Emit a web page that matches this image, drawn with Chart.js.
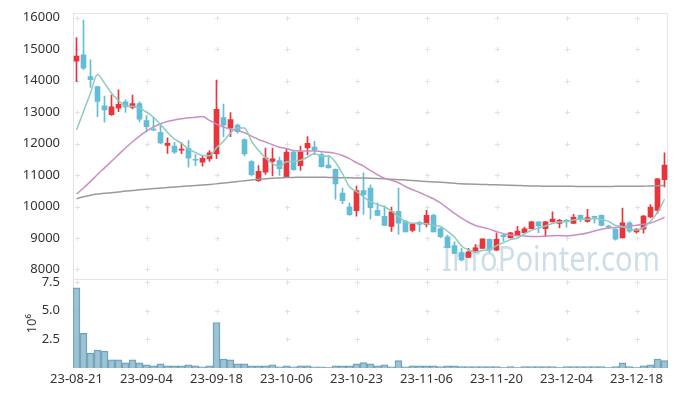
<!DOCTYPE html>
<html>
<head>
<meta charset="utf-8">
<script src="https://cdn.jsdelivr.net/npm/chart.js@4.4.0/dist/chart.umd.min.js"></script>
<style>
  html, body { margin: 0; padding: 0; background: #fff; }
  #wrap { width: 677px; height: 396px; }
</style>
</head>
<body>
<div id="wrap"><canvas id="stockChart" width="677" height="396"></canvas></div>
<script>
// trading days (yy-mm-dd)
const dates = [
    '23-08-21', '23-08-22', '23-08-23', '23-08-24', '23-08-25', '23-08-28', '23-08-29', '23-08-30', '23-08-31', '23-09-01',
    '23-09-04', '23-09-05', '23-09-06', '23-09-07', '23-09-08', '23-09-11', '23-09-12', '23-09-13', '23-09-14', '23-09-15',
    '23-09-18', '23-09-19', '23-09-20', '23-09-21', '23-09-22', '23-09-25', '23-09-26', '23-09-27', '23-10-04', '23-10-05',
    '23-10-06', '23-10-10', '23-10-11', '23-10-12', '23-10-13', '23-10-16', '23-10-17', '23-10-18', '23-10-19', '23-10-20',
    '23-10-23', '23-10-24', '23-10-25', '23-10-26', '23-10-27', '23-10-30', '23-10-31', '23-11-01', '23-11-02', '23-11-03',
    '23-11-06', '23-11-07', '23-11-08', '23-11-09', '23-11-10', '23-11-13', '23-11-14', '23-11-15', '23-11-16', '23-11-17',
    '23-11-20', '23-11-21', '23-11-22', '23-11-23', '23-11-24', '23-11-27', '23-11-28', '23-11-29', '23-11-30', '23-12-01',
    '23-12-04', '23-12-05', '23-12-06', '23-12-07', '23-12-08', '23-12-11', '23-12-12', '23-12-13', '23-12-14', '23-12-15',
    '23-12-18', '23-12-19', '23-12-20', '23-12-21', '23-12-22'
];

const openPrices = [
    14620, 14820, 14130, 13810, 13200, 12920, 13130, 13330, 13150, 13270,
    12730, 12460, 12360, 11940, 11920, 11790, 11850, 11500, 11410, 11515,
    11670, 12830, 12490, 12590, 12130, 11430, 10820, 11090, 11430, 11460,
    10930, 11730, 11300, 11860, 11890, 11650, 11320, 11180, 10430, 9990,
    9870, 10510, 10590, 9880, 9690, 9370, 9850, 9540, 9240, 9490,
    9430, 9720, 9300, 9040, 8760, 8540, 8380, 8590, 8670, 8960,
    8610, 9090, 9000, 9070, 9170, 9300, 9510, 9300, 9510, 9460,
    9560, 9460, 9720, 9530, 9690, 9720, 9380, 9280, 9000, 9480,
    9190, 9280, 9670, 9880, 10850
];
const highPrices = [
    15370, 15930, 14660, 13820, 13510, 13540, 13710, 13395, 13540, 13330,
    12890, 12840, 12600, 12180, 12040, 12030, 12100, 11650, 11600, 11780,
    14020, 13260, 12990, 12620, 12150, 11460, 11300, 11860, 11860, 11570,
    11830, 11780, 11920, 12220, 12070, 11700, 11620, 11200, 10590, 10110,
    10650, 11070, 10690, 10120, 10020, 9980, 10590, 9560, 9470, 9530,
    9880, 9760, 9320, 9090, 8880, 8670, 8670, 8790, 8970, 8970,
    9160, 9100, 9180, 9370, 9350, 9530, 9510, 9530, 9830, 9590,
    9590, 9750, 9740, 9910, 9700, 9740, 9400, 9290, 9950, 9520,
    9300, 9720, 10060, 10890, 11710
];
const lowPrices = [
    13970, 14350, 13790, 12860, 12680, 12900, 13015, 12990, 13100, 12680,
    12380, 12420, 11990, 11690, 11690, 11680, 11250, 11300, 11280, 11430,
    11520, 12220, 12220, 12330, 11620, 10970, 10800, 11020, 10970, 10990,
    10920, 11150, 11150, 11640, 11650, 11250, 11230, 10230, 10090, 9720,
    9690, 9750, 9610, 9720, 9400, 9210, 9110, 9190, 9190, 9190,
    9350, 9190, 9000, 8690, 8500, 8270, 8380, 8530, 8670, 8550,
    8600, 8900, 9000, 9070, 9170, 9290, 9170, 9040, 9510, 9320,
    9340, 9460, 9520, 9500, 9470, 9380, 9300, 8930, 9000, 9180,
    9150, 9150, 9640, 9780, 10620
];
const closePrices = [
    14780, 14400, 14030, 13340, 13070, 13170, 13250, 13170, 13270, 12780,
    12540, 12430, 12020, 12010, 11730, 11830, 11540, 11470, 11530, 11705,
    13090, 12590, 12760, 12380, 11670, 11010, 11120, 11540, 11515, 11200,
    11730, 11170, 11730, 12010, 11800, 11270, 11230, 10720, 10190, 9740,
    10510, 10380, 9960, 9720, 9400, 9830, 9470, 9190, 9450, 9430,
    9720, 9190, 9040, 8690, 8510, 8300, 8560, 8690, 8970, 8610,
    8960, 9040, 9160, 9220, 9290, 9510, 9380, 9510, 9600, 9560,
    9520, 9660, 9600, 9650, 9650, 9400, 9340, 8960, 9480, 9220,
    9280, 9700, 9980, 10880, 11320
];

// volume, millions of shares
const volumes = [
    7.00, 3.03, 1.31, 1.57, 1.48, 0.71, 0.71, 0.45, 0.71, 0.45,
    0.28, 0.19, 0.36, 0.19, 0.19, 0.19, 0.28, 0.19, 0.10, 0.19,
    3.98, 0.79, 0.71, 0.36, 0.36, 0.19, 0.19, 0.19, 0.28, 0.10,
    0.19, 0.10, 0.19, 0.19, 0.10, 0.10, 0.03, 0.19, 0.19, 0.19,
    0.36, 0.47, 0.36, 0.19, 0.28, 0.10, 0.65, 0.10, 0.19, 0.19,
    0.19, 0.19, 0.13, 0.19, 0.19, 0.12, 0.12, 0.12, 0.12, 0.12,
    0.12, 0.03, 0.12, 0.03, 0.12, 0.12, 0.12, 0.12, 0.12, 0.03,
    0.12, 0.12, 0.12, 0.12, 0.12, 0.12, 0.03, 0.12, 0.45, 0.12,
    0.03, 0.19, 0.28, 0.79, 0.65
];

// moving averages
const ma5 = [
    12430, 13020, 13610, 14200, 13924, 13602, 13372, 13200, 13186, 13128,
    13002, 12838, 12608, 12356, 12146, 12004, 11826, 11716, 11620, 11615,
    11867, 12077, 12335, 12505, 12498, 12082, 11788, 11544, 11371, 11277,
    11421, 11431, 11469, 11568, 11688, 11596, 11608, 11406, 11042, 10630,
    10478, 10308, 10156, 10062, 9994, 9858, 9676, 9522, 9468, 9474,
    9452, 9396, 9366, 9214, 9030, 8746, 8620, 8550, 8606, 8626,
    8758, 8854, 8948, 8998, 9134, 9244, 9312, 9382, 9458, 9512,
    9514, 9570, 9588, 9598, 9616, 9592, 9528, 9400, 9366, 9280,
    9256, 9328, 9532, 9812, 10232
];
const ma20 = [
    10400, 10590, 10800, 11020, 11230, 11440, 11650, 11860, 12060, 12240,
    12400, 12530, 12630, 12700, 12750, 12790, 12820, 12840, 12860, 12740,
    12619, 12528, 12465, 12417, 12347, 12239, 12132, 12051, 11963, 11884,
    11844, 11781, 11766, 11766, 11770, 11742, 11726, 11689, 11622, 11523,
    11394, 11284, 11144, 11011, 10897, 10838, 10756, 10638, 10535, 10447,
    10346, 10247, 10113, 9947, 9782, 9634, 9500, 9399, 9338, 9281,
    9204, 9137, 9097, 9072, 9066, 9050, 9046, 9062, 9069, 9076,
    9066, 9089, 9117, 9165, 9222, 9277, 9316, 9330, 9355, 9386,
    9402, 9435, 9476, 9559, 9660
];
const ma120 = [
    10250, 10310, 10360, 10395, 10420, 10440, 10465, 10490, 10510, 10530,
    10550, 10570, 10590, 10605, 10620, 10640, 10655, 10670, 10685, 10700,
    10720, 10745, 10770, 10795, 10820, 10845, 10865, 10885, 10900, 10910,
    10920, 10925, 10930, 10930, 10930, 10930, 10925, 10920, 10915, 10912,
    10908, 10903, 10897, 10890, 10882, 10870, 10855, 10840, 10825, 10808,
    10792, 10780, 10770, 10755, 10740, 10725, 10715, 10707, 10700, 10695,
    10690, 10683, 10677, 10670, 10662, 10655, 10650, 10648, 10646, 10644,
    10642, 10641, 10640, 10640, 10640, 10640, 10640, 10641, 10642, 10643,
    10645, 10648, 10652, 10660, 10672
];

const priceTicks = [8000, 9000, 10000, 11000, 12000, 13000, 14000, 15000, 16000];
const volumeTicks = [2.5, 5.0, 7.5];
const dateTicks = [0, 10, 20, 30, 40, 50, 60, 70, 80];

const upColor = '#e9343b';
const downColor = '#63bdd7';
const tickFont = { family: '"Noto Sans"', size: 13 };

const candleColors = openPrices.map((o, i) => closePrices[i] >= o ? upColor : downColor);
const wickData = dates.map((d, i) => [lowPrices[i], highPrices[i]]);
const bodyData = dates.map((d, i) => [openPrices[i], closePrices[i]]);

// light frames, plus marks on tick crossings and the watermark
const decorPlugin = {
    id: 'decor',
    beforeDatasetsDraw(chart) {
        const ctx = chart.ctx;
        const area = chart.chartArea;
        const x = chart.scales.x;
        const yp = chart.scales.y;
        const yv = chart.scales.yv;

        ctx.save();
        ctx.font = '34px "Noto Sans"';
        ctx.fillStyle = 'rgba(175, 202, 218, 0.62)';
        ctx.textBaseline = 'alphabetic';
        const text = 'InfoPointer.com';
        const w = ctx.measureText(text).width;
        ctx.translate(area.right - 8, yp.bottom - 8);
        ctx.scale(218 / w, 1);
        ctx.textAlign = 'right';
        ctx.fillText(text, 0, 0);
        ctx.restore();

        ctx.save();
        ctx.strokeStyle = '#e4e4e4';
        ctx.lineWidth = 1;
        ctx.strokeRect(Math.round(area.left) + 0.5, Math.round(yp.top) + 0.5,
            Math.round(area.width) - 1, Math.round(yp.bottom - yp.top));
        ctx.strokeRect(Math.round(area.left) + 0.5, Math.round(yv.top) + 0.5,
            Math.round(area.width) - 1, Math.round(yv.bottom - yv.top) - 1);

        ctx.strokeStyle = '#e2e2e2';
        const cross = (px, py) => {
            ctx.beginPath();
            ctx.moveTo(px - 2.5, py);
            ctx.lineTo(px + 2.5, py);
            ctx.moveTo(px, py - 2.5);
            ctx.lineTo(px, py + 2.5);
            ctx.stroke();
        };
        dateTicks.forEach(i => {
            const px = Math.round(x.getPixelForValue(i)) + 0.5;
            priceTicks.forEach(v => cross(px, Math.round(yp.getPixelForValue(v)) + 0.5));
            volumeTicks.forEach(v => cross(px, Math.round(yv.getPixelForValue(v)) + 0.5));
        });
        ctx.restore();
    }
};

const ctx = document.getElementById('stockChart').getContext('2d');
const stockChart = new Chart(ctx, {
    type: 'bar',
    data: {
        labels: dates,
        datasets: [
            {
                type: 'line',
                label: 'MA5',
                data: ma5,
                yAxisID: 'y',
                borderColor: '#8ccbbf',
                borderWidth: 1.5,
                pointRadius: 0,
                cubicInterpolationMode: 'monotone',
                order: 0
            },
            {
                type: 'line',
                label: 'MA20',
                data: ma20,
                yAxisID: 'y',
                borderColor: '#c98fc3',
                borderWidth: 1.5,
                pointRadius: 0,
                cubicInterpolationMode: 'monotone',
                order: 0
            },
            {
                type: 'line',
                label: 'MA120',
                data: ma120,
                yAxisID: 'y',
                borderColor: '#9a9a9a',
                borderWidth: 1.5,
                pointRadius: 0,
                cubicInterpolationMode: 'monotone',
                order: 0
            },
            {
                label: 'body',
                data: bodyData,
                yAxisID: 'y',
                backgroundColor: candleColors,
                barThickness: 5,
                minBarLength: 1,
                grouped: false,
                order: 1
            },
            {
                label: 'wick',
                data: wickData,
                yAxisID: 'y',
                backgroundColor: candleColors,
                barThickness: 1,
                grouped: false,
                order: 2
            },
            {
                label: 'volume',
                data: volumes,
                yAxisID: 'yv',
                backgroundColor: 'rgba(140, 184, 205, 0.85)',
                borderColor: '#6a9fb8',
                borderWidth: 1,
                barPercentage: 1,
                categoryPercentage: 1,
                grouped: false,
                order: 3
            }
        ]
    },
    options: {
        responsive: false,
        animation: false,
        layout: { padding: { top: 8, right: 9, bottom: 0, left: 0 } },
        plugins: {
            legend: { display: false },
            tooltip: { enabled: false }
        },
        scales: {
            yv: {
                position: 'left',
                stack: 'panels',
                stackWeight: 1,
                min: 0,
                max: 7.76,
                grid: { display: false },
                border: { display: false },
                title: {
                    display: true,
                    text: '10⁶',
                    color: '#333',
                    font: tickFont,
                    padding: { top: 24, bottom: 0 }
                },
                afterBuildTicks: function(scale) {
                    scale.ticks = volumeTicks.map(v => ({ value: v }));
                },
                ticks: {
                    autoSkip: false,
                    padding: 5,
                    color: '#333',
                    font: tickFont,
                    callback: function(value) {
                        return value === 5 ? '5.0' : value.toFixed(1);
                    }
                },
                afterFit: function(scale) { scale.width = 73; }
            },
            y: {
                position: 'left',
                stack: 'panels',
                stackWeight: 3,
                min: 7690,
                max: 16158,
                grid: { display: false },
                border: { display: false },
                afterBuildTicks: function(scale) {
                    scale.ticks = priceTicks.map(v => ({ value: v }));
                },
                ticks: {
                    autoSkip: false,
                    padding: 5,
                    color: '#333',
                    font: tickFont,
                    callback: function(value) { return String(value); }
                },
                afterFit: function(scale) { scale.width = 73; }
            },
            x: {
                type: 'category',
                offset: true,
                grid: { display: false },
                border: { display: false },
                afterBuildTicks: function(scale) {
                    scale.ticks = dateTicks.map(v => ({ value: v }));
                },
                ticks: {
                    autoSkip: false,
                    maxRotation: 0,
                    padding: -5,
                    color: '#333',
                    font: tickFont,
                    callback: function(value) { return dates[value]; }
                },
                afterFit: function(scale) { scale.height = 28; }
            }
        }
    },
    plugins: [decorPlugin]
});
</script>
</body>
</html>
